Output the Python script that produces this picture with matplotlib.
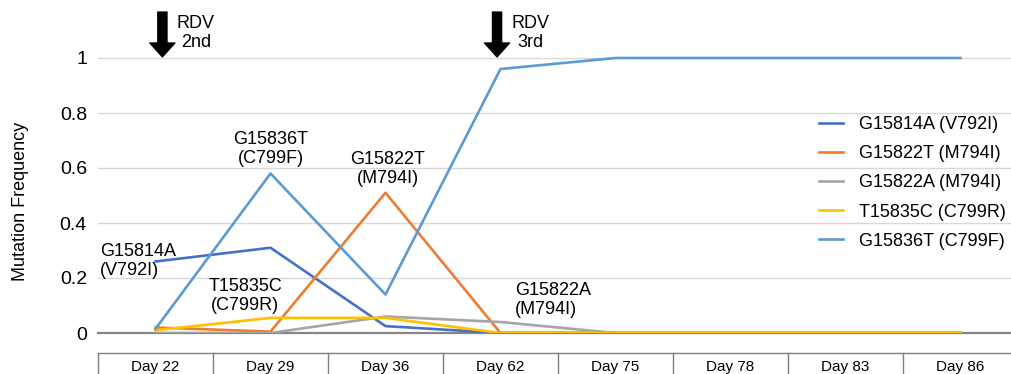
import matplotlib
matplotlib.use("Agg")
import matplotlib.pyplot as plt

plt.rcParams['font.family'] = ['Liberation Sans', 'DejaVu Sans']

# data
days = ['Day 22', 'Day 29', 'Day 36', 'Day 62', 'Day 75', 'Day 78', 'Day 83', 'Day 86']
g15814a = [0.26, 0.31, 0.025, 0.0, 0.0, 0.0, 0.0, 0.0]
g15822t = [0.02, 0.005, 0.51, 0.0, 0.0, 0.0, 0.0, 0.0]
g15822a = [0.0, 0.0, 0.06, 0.04, 0.0, 0.0, 0.0, 0.0]
t15835c = [0.01, 0.055, 0.055, 0.0, 0.0, 0.0, 0.0, 0.0]
g15836t = [0.015, 0.58, 0.14, 0.96, 1.0, 1.0, 1.0, 1.0]

series = [
    ('G15814A (V792I)', g15814a, '#4472C4'),
    ('G15822T (M794I)', g15822t, '#ED7D31'),
    ('G15822A (M794I)', g15822a, '#A5A5A5'),
    ('T15835C (C799R)', t15835c, '#FFC000'),
    ('G15836T (C799F)', g15836t, '#5B9BD5'),
]

fig = plt.figure(figsize=(10.12, 3.74), dpi=100)
ax = fig.add_axes([98/1012, 41/374, 920/1012, 330/374])

x = list(range(len(days)))
for name, vals, col in series:
    ax.plot(x, vals, color=col, lw=1.9, label=name, zorder=3)

ax.set_xlim(-0.5, len(days) - 0.5)
ax.set_ylim(0, 1.2)
ax.set_yticks([0, 0.2, 0.4, 0.6, 0.8, 1.0])
ax.set_yticklabels(['0', '0.2', '0.4', '0.6', '0.8', '1'])
ax.tick_params(axis='y', length=0, pad=8, labelsize=14)
ax.set_xticks([])
for s in ax.spines.values():
    s.set_visible(False)
for yv in [0.2, 0.4, 0.6, 0.8, 1.0]:
    ax.axhline(yv, color='#D9D9D9', lw=1, zorder=1)
ax.axhline(0, color='#868686', lw=1.6, zorder=2, clip_on=False)

ax.set_ylabel('Mutation Frequency', fontsize=13)
ax.yaxis.set_label_coords(-0.075, 0.40)

# table-like x labels
ytop, ybot = -0.072, -0.25
ax.plot([-0.5, len(days) - 0.5], [ytop, ytop], color='#7F7F7F', lw=1, clip_on=False)
for i in range(len(days) + 1):
    ax.plot([i - 0.5, i - 0.5], [ytop, ybot], color='#7F7F7F', lw=1, clip_on=False)
for i, d in enumerate(days):
    ax.text(i, -0.125, d, ha='center', va='center', fontsize=11, clip_on=False)

# annotations
ax.text(1.0, 0.669, 'G15836T\n(C799F)', ha='center', va='center', fontsize=13)
ax.text(2.02, 0.596, 'G15822T\n(M794I)', ha='center', va='center', fontsize=13)
ax.text(-0.483, 0.262, 'G15814A\n(V792I)', ha='left', va='center', fontsize=13)
ax.text(0.78, 0.135, 'T15835C\n(C799R)', ha='center', va='center', fontsize=13)
ax.text(3.126, 0.12, 'G15822A\n(M794I)', ha='left', va='center', fontsize=13)

# RDV arrows
for xa, xt, lab in [(0.06, 0.352, 'RDV\n2nd'), (2.97, 3.257, 'RDV\n3rd')]:
    ax.annotate('', xy=(xa, 1.004), xytext=(xa, 1.167),
                arrowprops=dict(arrowstyle='simple,head_length=0.5,head_width=0.9,tail_width=0.33',
                                mutation_scale=20, fc='black', ec='black', shrinkA=0, shrinkB=0),
                annotation_clip=False)
    ax.text(xt, 1.091, lab, ha='center', va='center', fontsize=13)

ax.legend(loc='upper left', bbox_to_anchor=(803/1012, 1 - 100/374),
          bbox_transform=fig.transFigure, frameon=False, fontsize=13,
          handlelength=1.3, handletextpad=0.9, labelspacing=0.67)

fig.savefig('out.png', dpi=100)
